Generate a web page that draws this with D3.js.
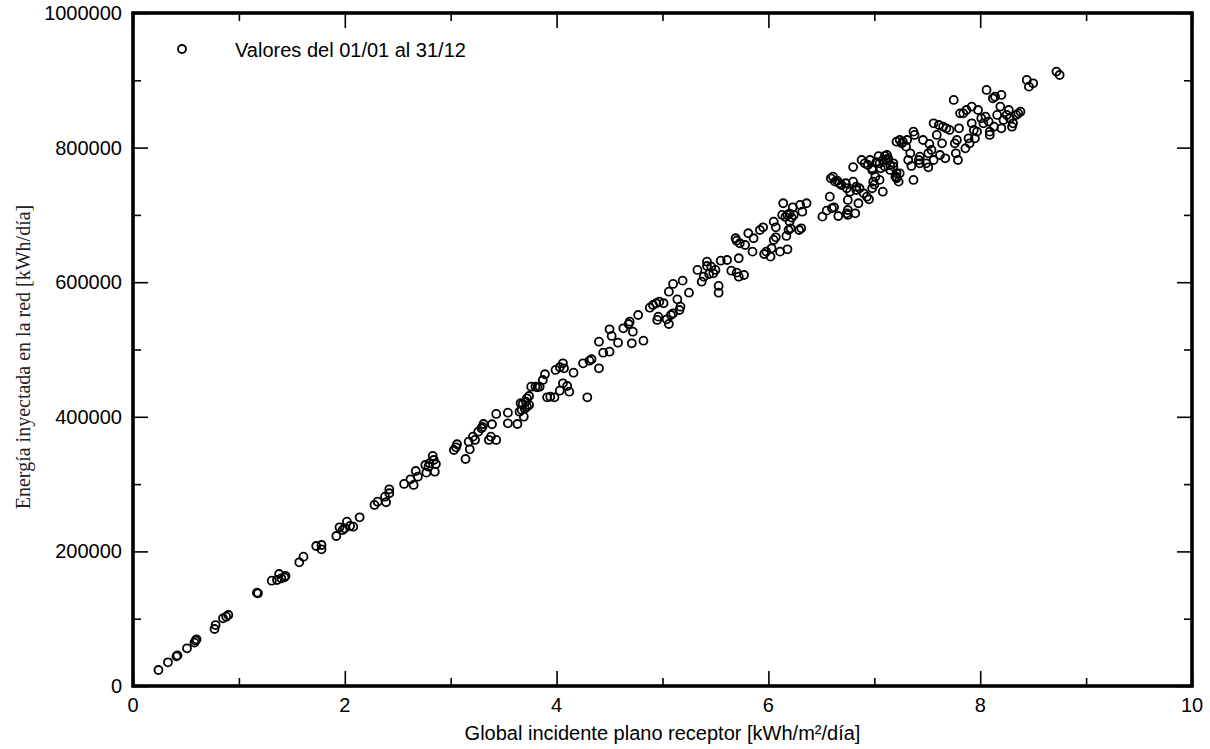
<!DOCTYPE html>
<html>
<head>
<meta charset="utf-8">
<script src="https://cdn.jsdelivr.net/npm/d3@7"></script>
<style>
  html, body { margin: 0; padding: 0; background: #fff; }
  svg { display: block; }
  .tick-label { font-family: "Liberation Sans", Arial, sans-serif; font-size: 20px; fill: #000; }
</style>
</head>
<body>
<svg id="chart" width="1210" height="749"></svg>
<script>
// Daily irradiation on the receiver plane [kWh/m²/día]
const irradiation = [
  0.24,0.33,0.41,0.42,0.51,0.58,0.59,0.60,0.77,0.78,0.85,0.88,0.90,1.17,1.18,1.31,1.36,1.38,1.40,1.43,
  1.44,1.57,1.61,1.73,1.78,1.78,1.92,1.95,1.98,2.02,2.00,2.05,2.08,2.14,2.28,2.31,2.38,2.39,2.42,2.42,
  2.56,2.62,2.65,2.67,2.69,2.76,2.77,2.79,2.83,2.84,2.85,2.86,3.03,3.05,3.06,3.14,3.18,3.17,3.21,3.23,
  3.26,3.29,3.31,3.36,3.38,3.43,3.39,3.43,3.54,3.54,3.63,3.65,3.66,3.68,3.69,3.71,3.72,3.74,3.74,3.76,
  3.80,3.82,3.84,3.87,3.89,3.91,3.94,3.98,3.99,4.03,4.06,4.07,4.03,4.06,4.10,4.12,4.16,4.25,4.31,4.33,
  4.29,4.40,4.40,3.70,3.72,3.67,3.30,2.80,
  4.44,4.50,4.50,4.52,4.58,4.63,4.68,4.69,4.72,4.71,4.77,4.82,4.88,4.91,4.94,4.97,5.01,4.95,4.96,5.04,
  5.06,5.08,5.10,5.16,5.17,5.14,5.06,5.10,5.19,5.25,5.33,5.37,5.39,5.42,5.42,5.46,5.48,5.55,5.53,5.53,
  5.61,5.65,5.72,5.70,5.72,5.77,5.69,5.73,5.78,5.81,
  5.44,5.50,5.70,5.86,5.85,5.92,5.95,5.96,5.98,6.02,6.03,6.05,6.07,6.07,6.05,6.11,6.13,6.14,6.18,6.17,
  6.19,6.20,6.21,6.23,6.24,6.29,6.31,6.30,6.32,6.36,6.16,6.18,6.20,6.22,6.51,6.55,6.58,6.62,6.66,6.74,
  6.75,6.75,6.75,6.82,6.85,6.93,6.95,7.08,6.59,6.61,6.63,6.65,6.67,6.69,6.73,6.74,6.80,6.83,6.86,6.80,
  6.88,6.91,6.94,6.98,6.99,7.02,7.05,7.08,7.10,7.13,7.15,7.18,7.21,7.21,
  6.60,6.77,6.83,6.90,6.98,7.01,7.04,6.98,6.96,7.00,7.05,
  7.06,7.10,7.11,7.12,7.15,7.18,7.20,7.21,7.23,7.24,7.21,7.24,7.26,7.27,7.30,7.31,7.32,7.34,7.35,7.37,
  7.37,7.38,7.42,7.43,7.43,7.46,7.49,7.51,7.51,7.52,7.54,7.56,7.56,7.59,7.61,7.62,7.64,7.65,7.67,7.68,
  7.71,7.75,7.76,7.77,7.78,7.79,7.80,7.81,7.84,7.86,7.87,7.89,7.90,7.92,7.92,7.94,7.95,7.97,7.98,8.01,
  8.03,8.05,8.06,8.08,8.09,8.09,8.12,8.13,8.14,8.16,8.19,8.20,8.20,8.22,8.25,8.27,8.28,8.30,8.31,8.34,
  8.36,8.38,8.44,8.46,8.50,8.72,8.75
];

// Daily energy injected into the grid [kWh/día], same order as irradiation
const energy = [
  23800,35200,44000,45500,56000,64400,67300,69400,84700,90600,100600,103000,105500,138600,137700,156500,157500,166400,160000,161500,
  163500,183800,192100,208000,209500,203100,222900,235800,231800,244100,234300,237800,236700,250700,269000,273900,281300,273000,292300,286400,
  300200,307100,298700,319500,311000,328400,317000,325900,341800,335800,318400,329900,350700,354700,359200,337300,351700,363000,370500,365600,
  377900,382900,389300,365600,370500,365600,388900,404200,390300,406100,389300,407600,420100,419000,400200,422500,427500,430900,417600,444700,
  444700,443800,444700,454700,463200,429000,429900,429000,469600,473600,479500,472100,438800,449800,445800,437300,465500,479500,483400,485500,
  429000,511600,472100,412000,415000,410000,385000,331000,
  495300,496700,530000,520100,510100,531500,537900,541300,526500,509200,551300,513100,562100,566200,568700,571100,568700,543900,548800,544900,
  537900,551300,553800,558700,563600,574600,585900,597400,602300,584400,618200,600800,608200,630500,624100,623000,613200,632000,594400,584400,
  633000,617100,635600,614200,608200,610700,665300,657900,655300,672700,
  612200,618200,661700,665300,645400,677600,681600,641900,645400,638000,650400,662800,666700,681600,690000,645400,699900,717300,648900,668700,
  677600,690000,680100,711300,699900,677600,680100,714800,704800,717300,697000,700000,702000,696000,697400,706300,727100,711300,698400,702400,
  707300,722200,699900,702400,717300,727100,723200,734500,754400,756800,749400,750800,747000,744400,747000,739600,749400,742000,739600,771000,
  781600,776700,774200,769300,749400,778300,776700,781600,787600,784100,774200,771700,761800,756300,
  709800,734500,737000,732100,739600,756800,787200,766800,781600,745000,752000,
  769300,771700,781600,789000,766800,776700,756800,754400,749400,761800,808800,811300,806300,808800,801400,811300,781600,791500,772700,751900,
  823700,818800,781600,776700,786600,811300,776700,791500,770700,805400,796500,781600,836100,818800,833600,789000,806300,831100,784100,828700,
  826200,870800,806300,791500,811300,781600,828700,850900,850900,798900,855900,813800,806300,836100,860900,826200,813800,823700,855900,843600,
  836100,846000,885700,838600,823700,818800,873300,831100,875700,848500,860900,878200,828700,841100,848500,855900,843600,831100,836100,848500,
  850900,853400,900500,890600,895500,912900,907900
];

const xTicksMajor = [0, 2, 4, 6, 8, 10];
const xTicksMinor = [1, 3, 5, 7, 9];
const yTicksMajor = [0, 200000, 400000, 600000, 800000, 1000000];
const yTicksMinor = [100000, 300000, 500000, 700000, 900000];

const legendLabel = "Valores del 01/01 al 31/12";
const xTitle = "Global incidente plano receptor [kWh/m²/día]";
const yTitle = "Energía inyectada en la red [kWh/día]";

const points = irradiation.map((v, i) => ({ x: v, y: energy[i] }));

const svg = d3.select("#chart");
const plot = { left: 133, top: 13, right: 1192, bottom: 686 };

const x = d3.scaleLinear().domain([0, 10]).range([plot.left, plot.right]);
const y = d3.scaleLinear().domain([0, 1000000]).range([plot.bottom, plot.top]);

const majorLen = 15, minorLen = 8;
const markerR = 4, markerStroke = 1.8;

// inward ticks on all four sides
function ticksFor(axisGen, translate, values, len) {
  svg.append("g")
    .attr("transform", translate)
    .call(axisGen.tickValues(values).tickSizeInner(-len).tickSizeOuter(0).tickFormat(""))
    .call(g => g.select(".domain").remove())
    .call(g => g.selectAll("line").attr("stroke", "#000").attr("stroke-width", 1.6));
}
ticksFor(d3.axisBottom(x), `translate(0,${plot.bottom})`, xTicksMajor, majorLen);
ticksFor(d3.axisBottom(x), `translate(0,${plot.bottom})`, xTicksMinor, minorLen);
ticksFor(d3.axisTop(x), `translate(0,${plot.top})`, xTicksMajor, majorLen);
ticksFor(d3.axisTop(x), `translate(0,${plot.top})`, xTicksMinor, minorLen);
ticksFor(d3.axisLeft(y), `translate(${plot.left},0)`, yTicksMajor, majorLen);
ticksFor(d3.axisLeft(y), `translate(${plot.left},0)`, yTicksMinor, minorLen);
ticksFor(d3.axisRight(y), `translate(${plot.right},0)`, yTicksMajor, majorLen);
ticksFor(d3.axisRight(y), `translate(${plot.right},0)`, yTicksMinor, minorLen);

// tick labels
svg.append("g").selectAll("text")
  .data(xTicksMajor).join("text")
  .attr("class", "tick-label")
  .attr("x", d => x(d)).attr("y", 712)
  .attr("text-anchor", "middle")
  .text(d => d);

svg.append("g").selectAll("text")
  .data(yTicksMajor).join("text")
  .attr("class", "tick-label")
  .attr("x", 122).attr("y", d => y(d))
  .attr("dy", "0.35em")
  .attr("text-anchor", "end")
  .text(d => d);

// frame
svg.append("rect")
  .attr("x", plot.left).attr("y", plot.top)
  .attr("width", plot.right - plot.left).attr("height", plot.bottom - plot.top)
  .attr("fill", "none").attr("stroke", "#000").attr("stroke-width", 3.6);

// scatter markers
svg.append("g").selectAll("circle")
  .data(points).join("circle")
  .attr("cx", d => x(d.x)).attr("cy", d => y(d.y))
  .attr("r", markerR)
  .attr("fill", "none").attr("stroke", "#000").attr("stroke-width", markerStroke);

// legend
svg.append("circle")
  .attr("cx", 182).attr("cy", 49).attr("r", markerR)
  .attr("fill", "none").attr("stroke", "#000").attr("stroke-width", markerStroke);
svg.append("text")
  .attr("class", "tick-label")
  .attr("x", 235).attr("y", 57)
  .text(legendLabel);

// axis titles
svg.append("text")
  .attr("class", "tick-label")
  .attr("x", (plot.left + plot.right) / 2).attr("y", 740)
  .attr("text-anchor", "middle")
  .text(xTitle);

svg.append("text")
  .attr("transform", "translate(30,357) rotate(-90)")
  .attr("text-anchor", "middle")
  .style("font-family", "'Liberation Serif', 'Times New Roman', serif")
  .style("font-size", "20px")
  .attr("fill", "#222")
  .text(yTitle);
</script>
</body>
</html>
